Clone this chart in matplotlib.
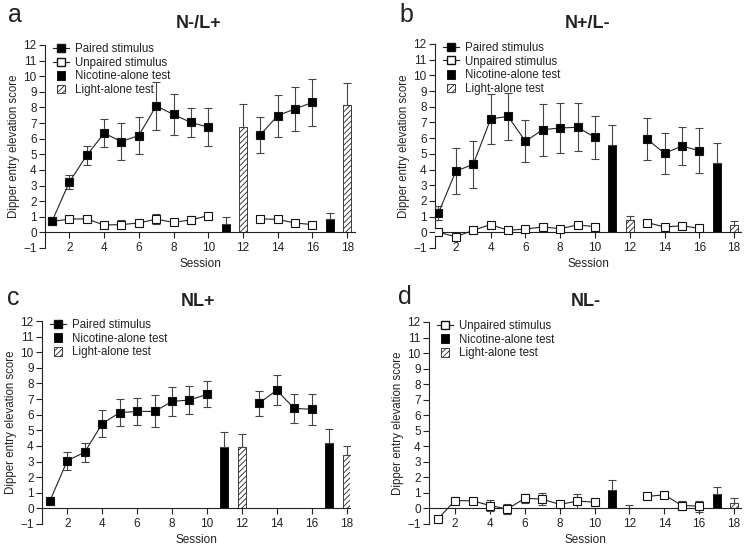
import matplotlib
matplotlib.use("Agg")
import matplotlib.pyplot as plt
from matplotlib.lines import Line2D
from matplotlib.patches import Patch, Rectangle
from matplotlib.legend_handler import HandlerPatch
import numpy as np

plt.rcParams['font.family'] = ['Liberation Sans', 'DejaVu Sans']
plt.rcParams['hatch.linewidth'] = 0.6

sess_a = [1, 2, 3, 4, 5, 6, 7, 8, 9, 10, 13, 14, 15, 16]
bar_sess = [11, 12, 17, 18]
bar_kind = ['nic', 'light', 'nic', 'light']

# Panel a: N-/L+
a_paired = [0.70, 3.22, 4.93, 6.35, 5.82, 6.20, 8.10, 7.55, 7.04, 6.74, 6.25, 7.48, 7.91, 8.32]
a_paired_err = [0.10, 0.45, 0.60, 0.90, 1.20, 1.20, 1.55, 1.30, 0.92, 1.20, 1.15, 1.35, 1.40, 1.50]
a_unpaired = [0.70, 0.85, 0.87, 0.47, 0.50, 0.60, 0.85, 0.64, 0.80, 1.07, 0.87, 0.83, 0.60, 0.50]
a_unpaired_err = [0.10, 0.10, 0.10, 0.15, 0.30, 0.10, 0.30, 0.10, 0.25, 0.10, 0.20, 0.10, 0.15, 0.10]
a_bars = [0.55, 6.78, 0.85, 8.17]
a_bars_err = [0.43, 1.45, 0.40, 1.40]

# Panel b: N+/L-
b_paired = [1.23, 3.90, 4.33, 7.22, 7.39, 5.80, 6.54, 6.65, 6.69, 6.05, 5.94, 5.03, 5.50, 5.20]
b_paired_err = [0.45, 1.45, 1.50, 1.60, 1.50, 1.33, 1.65, 1.60, 1.52, 1.36, 1.35, 1.33, 1.20, 1.43]
b_unpaired = [0.00, -0.28, 0.13, 0.49, 0.13, 0.21, 0.34, 0.23, 0.47, 0.36, 0.62, 0.34, 0.42, 0.25]
b_unpaired_err = [0.05, 0.10, 0.10, 0.10, 0.05, 0.10, 0.15, 0.15, 0.10, 0.20, 0.10, 0.15, 0.10, 0.10]
b_bars = [5.58, 0.80, 4.42, 0.45]
b_bars_err = [1.28, 0.22, 1.30, 0.30]

# Panel c: NL+
c_paired = [0.47, 3.06, 3.60, 5.43, 6.13, 6.21, 6.21, 6.85, 6.94, 7.30, 6.74, 7.57, 6.40, 6.35]
c_paired_err = [0.25, 0.57, 0.60, 0.85, 0.85, 0.84, 1.03, 0.94, 0.92, 0.83, 0.80, 0.98, 0.90, 1.00]
c_bars = [3.96, 3.91, 4.21, 3.43]
c_bars_err = [0.91, 0.83, 0.85, 0.57]

# Panel d: NL-
d_unpaired = [-0.68, 0.51, 0.49, 0.19, -0.04, 0.66, 0.60, 0.26, 0.47, 0.41, 0.77, 0.88, 0.19, 0.15]
d_unpaired_err = [0.10, 0.20, 0.10, 0.35, 0.30, 0.30, 0.40, 0.20, 0.45, 0.10, 0.15, 0.10, 0.30, 0.35]
d_bars = [1.20, 0.02, 0.94, 0.38]
d_bars_err = [0.60, 0.20, 0.47, 0.28]

yticks = list(range(-1, 13))
xticks = [2, 4, 6, 8, 10, 12, 14, 16, 18]

W, H = 752, 548
fig = plt.figure(figsize=(W / 100, H / 100), dpi=100)

AX = '#222222'
FS = 8


def rect(l, r, t, b):
    return [l / W, 1 - b / H, (r - l) / W, (b - t) / H]


def plot_series(ax, y, err, filled):
    seg1 = slice(0, 10)
    seg2 = slice(10, 14)
    x = np.array(sess_a)
    y = np.array(y)
    e = np.array(err)
    fc = 'black' if filled else 'white'
    z = 4 if filled else 3
    for s in (seg1, seg2):
        ax.errorbar(x[s], y[s], yerr=e[s], fmt='none', ecolor='#444444',
                    elinewidth=0.8, capsize=2.8, capthick=0.8, zorder=z)
        ax.plot(x[s], y[s], '-', color='#222222', lw=0.8, marker='s', ms=5.5,
                mfc=fc, mec='#111111', mew=0.8, zorder=z + 0.5)


def plot_bars(ax, vals, errs):
    for xs, v, e, k in zip(bar_sess, vals, errs, bar_kind):
        if k == 'nic':
            ax.bar(xs, v, width=0.45, color='black', edgecolor='black', lw=0.6, zorder=2)
        else:
            ax.bar(xs, v, width=0.45, color='white', edgecolor='#222222', lw=0.6,
                   hatch='//////', zorder=2)
        ax.errorbar(xs, v, yerr=[[0], [e]], fmt='none', ecolor='#444444',
                    elinewidth=0.8, capsize=2.8, capthick=0.8, zorder=2.5)


def style(ax, xlim):
    ax.set_xlim(*xlim)
    ax.set_ylim(-1, 12)
    ax.spines['top'].set_visible(False)
    ax.spines['right'].set_visible(False)
    ax.spines['bottom'].set_position(('data', 0))
    for sp in ('left', 'bottom'):
        ax.spines[sp].set_color(AX)
        ax.spines[sp].set_linewidth(0.8)
    ax.set_yticks(yticks)
    ax.set_xticks(xticks)
    ax.tick_params(axis='both', direction='out', length=4, width=0.8,
                   colors=AX, labelsize=FS + 0.5, labelcolor='#222222', pad=2)
    ax.tick_params(axis='x', pad=3)
    ax.set_ylabel('Dipper entry elevation score', fontsize=FS + 0.3, color='#222222', labelpad=2)
    ax.set_xlabel('Session', fontsize=FS + 0.5, color='#222222', labelpad=3)


def square_patch(legend, orig_handle, xdescent, ydescent, width, height, fontsize):
    s = height * 1.0
    return Rectangle((-xdescent + (width - s) / 2, -ydescent + (height - s) / 2), s, s)


h_paired = Line2D([], [], color='#222222', lw=0.8, marker='s', ms=5.5, mfc='black', mec='#111111')
h_unpaired = Line2D([], [], color='#222222', lw=0.8, marker='s', ms=5.5, mfc='white', mec='#111111')
h_nic = Patch(facecolor='black', edgecolor='black', lw=0.6)
h_light = Patch(facecolor='white', edgecolor='#222222', hatch='//////', lw=0.6)


def legend(ax, handles, labels):
    ax.legend(handles, labels, loc='upper left', bbox_to_anchor=(0.0, 1.05),
              frameon=False, fontsize=FS + 0.3, handlelength=1.4, handleheight=0.75,
              handletextpad=0.5, labelspacing=0.15, borderaxespad=0.3,
              labelcolor='#222222',
              handler_map={Patch: HandlerPatch(patch_func=square_patch)})


# Panel a
ax = fig.add_axes(rect(45, 355, 45, 248))
plot_bars(ax, a_bars, a_bars_err)
plot_series(ax, a_unpaired, a_unpaired_err, False)
plot_series(ax, a_paired, a_paired_err, True)
style(ax, (0.6, 18.45))
legend(ax, [h_paired, h_unpaired, h_nic, h_light],
       ['Paired stimulus', 'Unpaired stimulus', 'Nicotine-alone test', 'Light-alone test'])

# Panel b
ax = fig.add_axes(rect(435, 741, 44, 248))
plot_bars(ax, b_bars, b_bars_err)
plot_series(ax, b_unpaired, b_unpaired_err, False)
plot_series(ax, b_paired, b_paired_err, True)
style(ax, (0.8, 18.4))
legend(ax, [h_paired, h_unpaired, h_nic, h_light],
       ['Paired stimulus', 'Unpaired stimulus', 'Nicotine-alone test', 'Light-alone test'])

# Panel c
ax = fig.add_axes(rect(42, 350, 321, 524))
plot_bars(ax, c_bars, c_bars_err)
plot_series(ax, c_paired, c_paired_err, True)
style(ax, (0.55, 18.2))
legend(ax, [h_paired, h_nic, h_light],
       ['Paired stimulus', 'Nicotine-alone test', 'Light-alone test'])

# Panel d
ax = fig.add_axes(rect(429, 741, 322, 524))
plot_bars(ax, d_bars, d_bars_err)
plot_series(ax, d_unpaired, d_unpaired_err, False)
style(ax, (0.5, 18.4))
legend(ax, [h_unpaired, h_nic, h_light],
       ['Unpaired stimulus', 'Nicotine-alone test', 'Light-alone test'])

# Panel letters and titles
for (x, y, s) in [(15, 15, 'a'), (406, 15, 'b'), (13, 298, 'c'), (405, 297, 'd')]:
    fig.text(x / W, 1 - y / H, s, fontsize=18, ha='center', va='center', color='#222222')
for (x, y, s) in [(199, 23, 'N-/L+'), (588, 24, 'N+/L-'), (198, 301, 'NL+'), (586, 302, 'NL-')]:
    fig.text(x / W, 1 - y / H, s, fontsize=13, fontweight='bold', ha='center', va='center',
             color='#222222')

fig.savefig('out.png', dpi=100)
